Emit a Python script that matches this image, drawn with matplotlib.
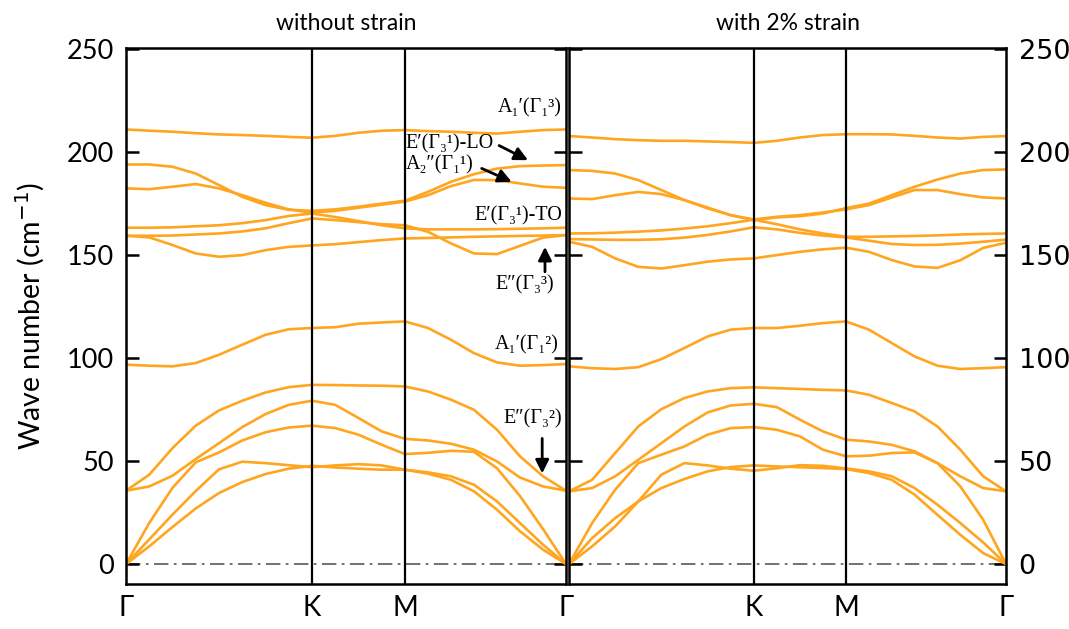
import numpy as np
import matplotlib.pyplot as plt

# ---------------- k-path (Γ-K-M-Γ) ---------------- #
k_path = [0.0, 0.1667, 0.3333, 0.5, 0.6667, 0.8333, 1.0, 1.1667, 1.3333,
          1.5, 1.6667, 1.8333, 2.0,
          2.165, 2.330, 2.495, 2.660, 2.825, 2.990, 3.155]
k_ticks = [0.0, 1.3333, 2.0, 3.155]
k_labels = ['Γ', 'K', 'M', 'Γ']

# ---------------- without strain (cm^-1) ---------------- #
ns_acoustic = [
    [0, 8.6, 18, 27, 34.5, 39.8, 43.7, 46.3, 47.7, 46.9, 46.3, 45.8, 45.8, 43.9, 40.9, 35.3, 26.4, 15.9, 7, 0],
    [0, 12, 24, 35.5, 46, 49.7, 49, 48, 47, 47.9, 48.5, 47.9, 45.8, 44.5, 42.6, 38.5, 30.4, 19.9, 9.4, 0],
    [0, 20, 37, 49.4, 54.2, 60, 64, 66.3, 67.2, 66, 62.8, 57.9, 53.4, 54, 55, 54.5, 46.5, 33, 17, 0],
]
ns_optical_low = [
    [35.6, 37.7, 42.9, 51, 58.7, 66.5, 72.8, 77.3, 79.3, 77.3, 70.9, 64.4, 60.8, 60, 58.4, 55.5, 49.8, 42, 37.7, 35.6],
    [35.6, 43.4, 56.3, 67.2, 74.6, 79.3, 83.3, 85.9, 87, 86.9, 86.7, 86.6, 86.2, 83.8, 79.8, 74.9, 65.2, 52.3, 42.6, 35.6],
    [96.8, 96.3, 96, 97.6, 101.6, 106.5, 111.3, 114, 114.6, 115, 116.7, 117.3, 117.8, 114.6, 108.9, 102.4, 97.9, 96.3, 96.6, 97.1],
]
ns_optical_high = [
    [159.4, 158.6, 154.9, 150.8, 149.2, 150, 152.4, 154, 154.7, 155.3, 156.3, 157.3, 158.1, 158.3, 158.6, 158.9, 159.1, 159.3, 159.5, 159.7],
    [159.4, 159.4, 159.5, 160, 160.5, 161.5, 163, 165.5, 167.8, 167, 166, 165, 164.5, 161.3, 155.7, 150.8, 150.5, 154.5, 158.5, 159.7],
    [163.3, 163.3, 163.5, 164, 164.5, 165.5, 167, 169, 170.2, 168.5, 166.5, 164.5, 163, 162.5, 162.5, 162.5, 162.6, 162.8, 163, 163.3],
    [182.4, 182, 183.2, 184.5, 182.4, 179.1, 175.4, 172.2, 170.6, 171.5, 173, 174.5, 176, 179.1, 183.5, 186.5, 186.4, 184.8, 183.2, 182.7],
    [194, 194, 192.9, 189.6, 184, 178.3, 174.3, 172, 171.5, 172.2, 173.5, 175, 176.4, 180.7, 185.6, 189.3, 192, 193.2, 193.5, 193.7],
    [211, 210.4, 209.9, 209.2, 208.6, 208.3, 207.9, 207.4, 207, 207.9, 209.4, 210.4, 210.7, 210.2, 209.9, 209.4, 209, 209.9, 210.7, 211],
]

# ---------------- with 2% strain (cm^-1) ---------------- #
st_acoustic = [
    [0, 12.6, 22.3, 30.4, 36.9, 41.3, 45, 47.1, 47.9, 47.4, 47, 46.6, 46.1, 44.2, 40.9, 33.7, 23.9, 14.2, 5.3, 0],
    [0, 8.6, 18.3, 30.4, 43.4, 49, 47.9, 46.3, 45.3, 46.5, 48, 47.7, 46.4, 45, 42.6, 36.9, 28.8, 19.9, 10.5, 0],
    [0, 19.9, 36.1, 49, 53.1, 57.1, 62.8, 66, 66.5, 65.2, 62, 55.5, 52.3, 52.6, 53.9, 54.2, 49, 37.7, 21.5, 0],
]
st_optical_low = [
    [35.3, 36.9, 42.6, 50.6, 58.7, 66.8, 73.6, 77, 77.8, 76.2, 70.1, 64.4, 60.4, 59.5, 57.9, 54.7, 49, 42.6, 36.9, 35.3],
    [35.3, 40.9, 53.9, 66.8, 75.2, 80.6, 83.8, 85.4, 85.8, 85.4, 85, 84.6, 84.3, 82.2, 78.2, 74.1, 66.8, 55.5, 42.6, 35.3],
    [96, 95.1, 94.7, 95.6, 99.5, 104.9, 110.5, 113.8, 114.6, 114.6, 115.7, 117, 117.8, 113.8, 107.3, 100.8, 96.3, 94.7, 95.1, 95.6],
]
st_optical_high = [
    [156.5, 154, 148.4, 144.3, 143.5, 145.1, 146.8, 147.9, 148.4, 150, 151.6, 152.8, 153.6, 151.6, 147.6, 144.5, 143.8, 147.5, 153.5, 156],
    [157.8, 157.6, 157.4, 157.4, 157.7, 158.5, 159.8, 161.5, 163.5, 162.5, 160.8, 159.5, 158.6, 157, 155.4, 154.9, 155, 155.6, 156.5, 157.5],
    [160.5, 160.6, 160.9, 161.4, 162, 162.9, 164, 165.5, 167.2, 165, 162.5, 160.5, 158.9, 158.9, 159.1, 159.3, 159.6, 160, 160.3, 160.5],
    [177.5, 177.2, 179.1, 180.7, 179.6, 176.7, 173.1, 169.4, 167.3, 168.6, 169.4, 170.7, 172.2, 174.3, 178, 181.6, 181.6, 179.6, 178, 177.5],
    [191.3, 190.9, 189.6, 186.4, 181.6, 176.7, 172.7, 169.4, 167, 168.3, 168.9, 170.2, 172.8, 175, 179.1, 183.2, 186.7, 189.6, 191.3, 191.6],
    [207.8, 207.1, 206.3, 205.8, 205.5, 205.5, 205.2, 204.9, 204.5, 205.5, 207.1, 208.3, 208.7, 208.7, 208.6, 207.9, 207.1, 206.6, 207.4, 207.8],
]

# mode labels on the left panel: (text, x, y, ha)
mode_labels = [
    ("A₁′(Γ₁³)", 3.125, 221.4, 'right'),
    ("E′(Γ₃¹)-LO", 2.007, 203.9, 'left'),
    ("A₂″(Γ₁¹)", 2.007, 193.7, 'left'),
    ("E′(Γ₃¹)-TO", 3.125, 169.0, 'right'),
    ("E″(Γ₃³)", 2.86, 135.4, 'center'),
    ("A₁′(Γ₁²)", 3.105, 106.3, 'right'),
    ("E″(Γ₃²)", 3.13, 70.4, 'right'),
]
# arrows: (tail, tip)
mode_arrows = [
    ((2.675, 203.2), (2.882, 196.1)),
    ((2.55, 192.1), (2.765, 185.6)),
    ((3.004, 141.9), (3.004, 154.0)),
    ((2.984, 61.0), (2.984, 44.0)),
]

orange = '#FFA51F'
sans = ['Lato', 'DejaVu Sans']
serif = ['Liberation Serif', 'DejaVu Serif']

fig = plt.figure(figsize=(10.69, 6.29), dpi=100)
ax1 = fig.add_axes([0.1179, 0.0715, 0.4116, 0.852])
ax2 = fig.add_axes([0.5323, 0.0715, 0.4088, 0.852])

panels = [
    (ax1, "without strain", ns_acoustic + ns_optical_low + ns_optical_high),
    (ax2, "with 2% strain", st_acoustic + st_optical_low + st_optical_high),
]

for ax, title, branches in panels:
    for branch in branches:
        ax.plot(k_path, branch, color=orange, lw=1.9, solid_joinstyle='round')
    for k in k_ticks[1:3]:
        ax.axvline(k, color='black', lw=1.6, zorder=3)
    ax.axhline(0, color='#666666', lw=1.3, zorder=1, dashes=(8, 3, 1.5, 3))
    ax.set_xlim(0, 3.155)
    ax.set_ylim(-9.7, 250.5)
    ax.set_yticks(range(0, 251, 50))
    ax.set_xticks(k_ticks)
    ax.tick_params(axis='y', direction='in', length=9, width=1.8,
                   left=True, right=True, labelsize=19.5, pad=9)
    ax.tick_params(axis='x', length=0, labelsize=20, pad=8)
    for sp in ax.spines.values():
        sp.set_linewidth(1.8)
    ax.set_title(title, fontsize=16.5, family=sans, pad=13)
    for lab in ax.get_yticklabels() + ax.get_xticklabels():
        lab.set_family(sans)

ax1.set_xticklabels(k_labels)
ax1.tick_params(axis='y', labelleft=True, labelright=False)
ax1.set_ylabel("Wave number (cm$^{-1}$)", fontsize=20.5, family=sans, labelpad=14)

ax2.set_xticklabels(['', 'K', 'M', 'Γ'])
ax2.tick_params(axis='y', labelleft=False, labelright=True)

for text, x, y, ha in mode_labels:
    ax1.text(x, y, text, ha=ha, va='center', fontsize=14.5, family=serif, zorder=5)
for tail, tip in mode_arrows:
    ax1.annotate('', xy=tip, xytext=tail,
                 arrowprops=dict(arrowstyle='-|>', color='black', lw=2.0,
                                 mutation_scale=20, shrinkA=0, shrinkB=0))

fig.savefig('out.png', dpi=100)
